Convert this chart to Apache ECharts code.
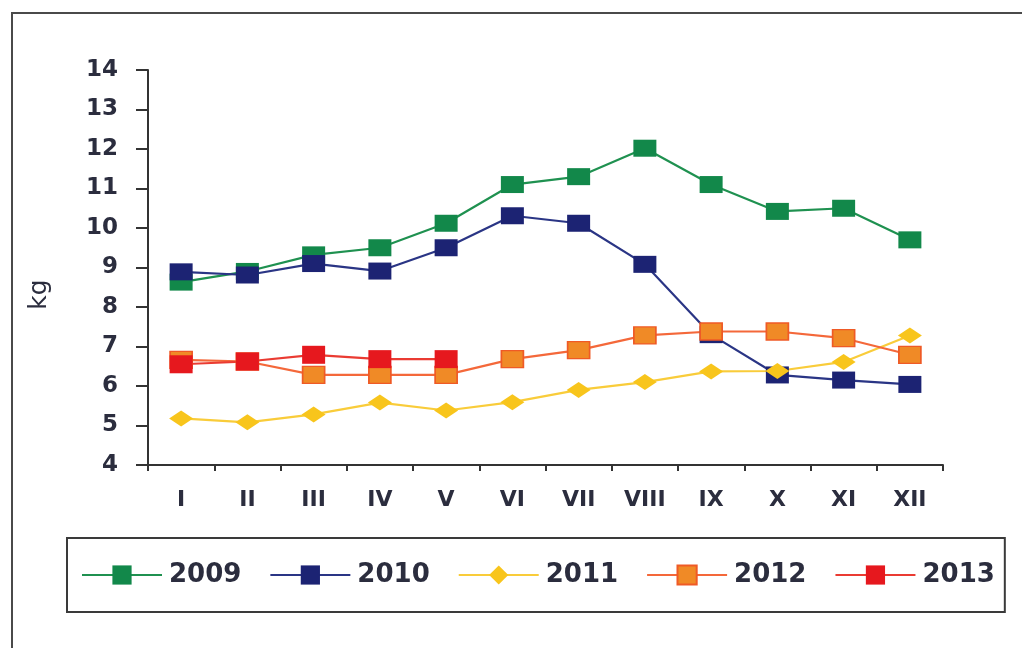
<!DOCTYPE html>
<html>
<head>
<meta charset="utf-8">
<script src="https://cdn.jsdelivr.net/npm/echarts@6/dist/echarts.min.js"></script>
<style>
  html, body { margin: 0; padding: 0; background: #fff; }
  #main { width: 1022px; height: 648px; }
</style>
</head>
<body>
<div id="main"></div>
<script>
	// months (roman numerals)
	var months = ['I', 'II', 'III', 'IV', 'V', 'VI', 'VII', 'VIII', 'IX', 'X', 'XI', 'XII'];
	var years = ['2009', '2010', '2011', '2012', '2013'];

	// kg per month
	var v2009 = [8.63, 8.9, 9.32, 9.5, 10.12, 11.1, 11.3, 12.02, 11.1, 10.42, 10.5, 9.7];
	var v2010 = [8.89, 8.81, 9.1, 8.91, 9.5, 10.31, 10.12, 9.08, 7.3, 6.28, 6.15, 6.04];
	var v2011 = [5.18, 5.08, 5.28, 5.58, 5.38, 5.59, 5.9, 6.1, 6.37, 6.38, 6.61, 7.28];
	var v2012 = [6.66, 6.62, 6.28, 6.28, 6.28, 6.68, 6.91, 7.28, 7.38, 7.38, 7.21, 6.79];
	var v2013 = [6.55, 6.62, 6.79, 6.68, 6.68];

	var txt = '#2b2d3e';
	var axisCol = '#333333';

	var myChart = echarts.init(document.getElementById('main'));

	function line(name, data, color, lineColor, symbol, size, border) {
		return {
			name: name,
			type: 'line',
			data: data,
			symbol: symbol,
			symbolSize: size,
			showAllSymbol: true,
			lineStyle: { color: lineColor, width: 2.2 },
			itemStyle: { color: color, borderColor: border || color, borderWidth: border ? 1.5 : 0, opacity: 1 },
			emphasis: { disabled: true },
			animation: false
		};
	}

	myChart.setOption({
		animation: false,
		graphic: [{
			type: 'rect',
			shape: { x: 12, y: 13, width: 1100, height: 800 },
			style: { fill: 'none', stroke: '#4a4a4a', lineWidth: 2 },
			silent: true
		}],
		grid: { left: 148, right: 79, top: 70, bottom: 183 },
		legend: {
			left: 67,
			top: 538,
			data: years,
			itemWidth: 80,
			itemHeight: 24,
			itemGap: 28,
			padding: [24, 10, 24, 14],
			borderColor: '#3a3a3a',
			borderWidth: 2,
			textStyle: { color: txt, fontFamily: 'DejaVu Sans', fontWeight: 'bold', fontSize: 26, padding: [0, 0, 0, 2] }
		},
		xAxis: {
			type: 'category',
			data: months,
			boundaryGap: true,
			axisLine: { lineStyle: { color: axisCol, width: 2 } },
			axisTick: { show: true, length: 6, lineStyle: { color: axisCol, width: 2 } },
			axisLabel: { color: txt, fontFamily: 'DejaVu Sans', fontWeight: 'bold', fontSize: 22, margin: 24 },
			splitLine: { show: false }
		},
		yAxis: {
			type: 'value',
			min: 4,
			max: 14,
			interval: 1,
			name: 'kg',
			nameLocation: 'middle',
			nameRotate: 90,
			nameGap: 96,
			// push the label a bit below the axis middle, as in the original
			nameTextStyle: { color: txt, fontFamily: 'DejaVu Sans', fontSize: 25, padding: [0, 54, 0, 0] },
			axisLine: { show: true, lineStyle: { color: axisCol, width: 2 } },
			axisTick: { show: true, length: 12, lineStyle: { color: axisCol, width: 2 } },
			axisLabel: { color: txt, fontFamily: 'DejaVu Sans', fontWeight: 'bold', fontSize: 23, margin: 30 },
			splitLine: { show: false }
		},
		series: [
			line('2009', v2009, '#12884a', '#1f9150', 'rect', [23, 17]),
			line('2010', v2010, '#1c2373', '#2a3585', 'rect', [23, 17]),
			line('2011', v2011, '#f8c51c', '#f9cc3a', 'diamond', [24, 16]),
			line('2012', v2012, '#f08a26', '#f4683a', 'rect', [22, 17], '#ef5a26'),
			line('2013', v2013, '#e6181e', '#ea3b32', 'rect', [23, 18])
		]
	});
</script>
</body>
</html>
